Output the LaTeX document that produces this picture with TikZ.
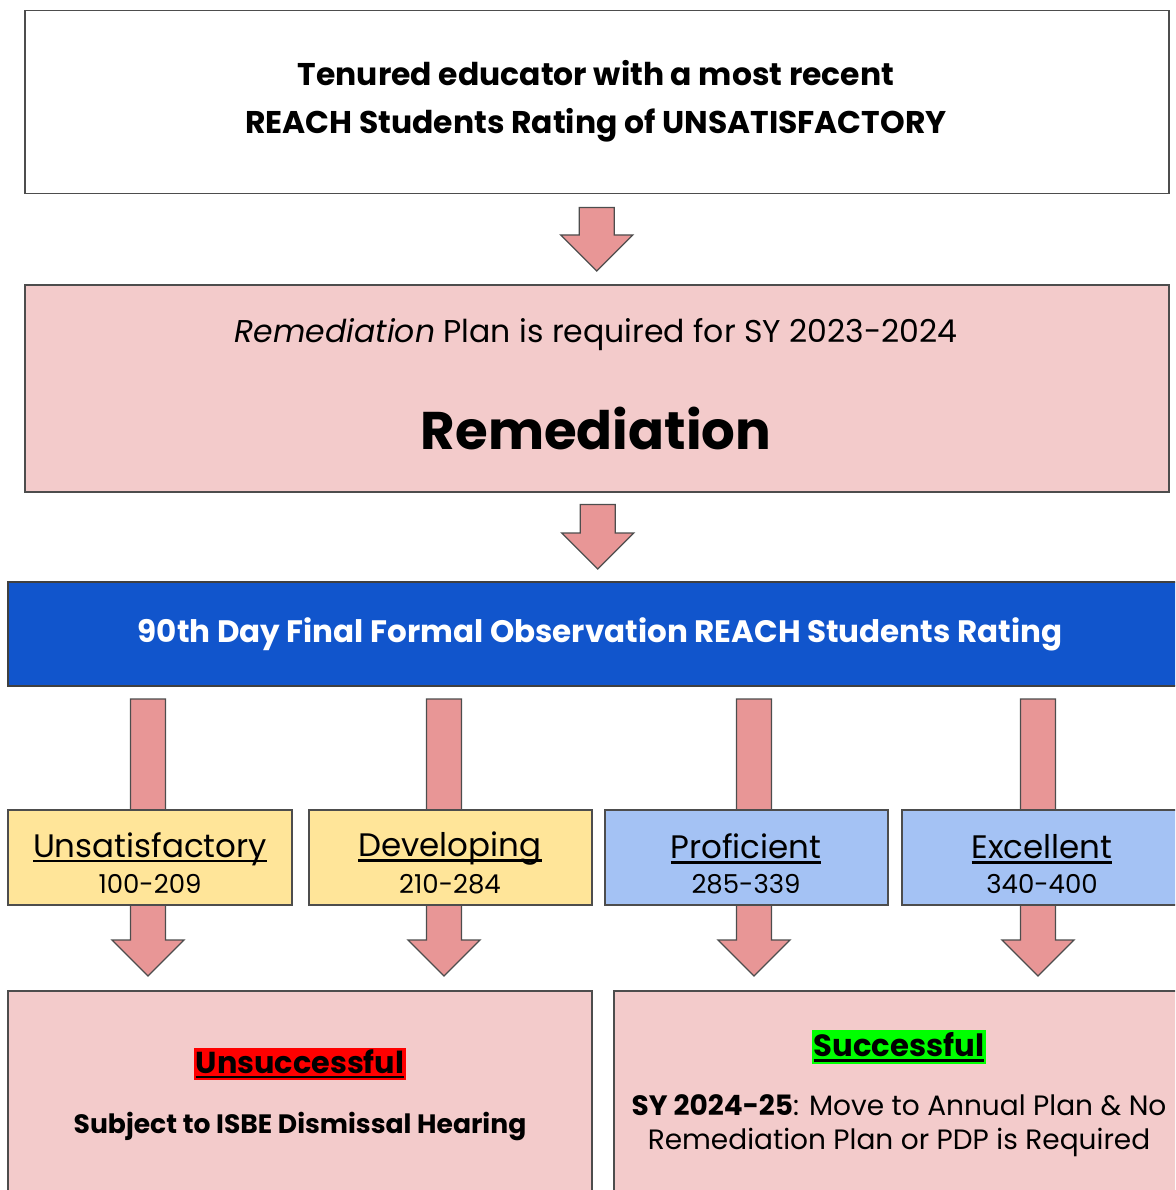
\documentclass[tikz,border=0pt]{standalone}
\usepackage{fontspec}
\setmainfont{Poppins}
\usetikzlibrary{calc}
\definecolor{arrowfill}{HTML}{E89696}
\definecolor{edge}{HTML}{4D4D4D}
\definecolor{pinkbox}{HTML}{F3CBCB}
\definecolor{bluebar}{HTML}{1155CC}
\definecolor{yellowbox}{HTML}{FFE599}
\definecolor{lightblue}{HTML}{A4C2F4}
\definecolor{hlred}{HTML}{FF0000}
\definecolor{hlgreen}{HTML}{00FF00}
\newcommand\myul[1]{\setbox0\hbox{#1}\leavevmode\rlap{\rule[-5pt]{\wd0}{2.5pt}}\box0}
\newcommand\fatarrow[2]{\path[draw=edge, line width=1.3pt, fill=arrowfill, line join=miter] let \p1=(#1), \p2=(#2) in (\x1-17.5pt,\y1) -- (\x1+17.5pt,\y1) -- (\x1+17.5pt,\y2+36pt) -- (\x1+36pt,\y2+36pt) -- (\x1,\y2) -- (\x1-36pt,\y2+36pt) -- (\x1-17.5pt,\y2+36pt) -- cycle;}
\tikzset{
  box/.style={draw=edge, line width=1.5pt, rectangle, anchor=north west, inner sep=0pt},
  catbox/.style={box, minimum height=95pt},
  lbl/.style={inner sep=0pt, align=center},
}
\begin{document}
\begin{tikzpicture}[x=1pt,y=-1pt]
\useasboundingbox (0,0) rectangle (1175,1190);
\clip (0,0) rectangle (1175,1190);
% top box
\node[box, fill=white, minimum width=1144pt, minimum height=183pt] (top) at (24,10) {};
\node[lbl, font=\fontsize{31.4}{48}\selectfont\bfseries] (toptxt) at (596,101) {Tenured educator with a most recent\\REACH Students Rating of UNSATISFACTORY};
% remediation box
\node[box, fill=pinkbox, minimum width=1144pt, minimum height=207pt] (rem) at (24,284) {};
\node[lbl, font=\fontsize{31.5}{36}\selectfont] (remsub) at (596,335) {\textit{Remediation} Plan is required for SY 2023-2024};
\node[lbl, font=\fontsize{53}{60}\selectfont\bfseries] (remtitle) at (596,428) {Remediation};
% arrow 1
\coordinate (a1s) at ($(top.south)+(0,13)$);
\coordinate (a1e) at ($(rem.north)+(0,-13)$);
\fatarrow{a1s}{a1e}
% blue bar
\node[box, draw=black!75, fill=bluebar, minimum width=1180pt, minimum height=104pt] (bar) at (7,581) {};
\node[lbl, text=white, font=\fontsize{31}{36}\selectfont\bfseries] (bartxt) at (600,634) {90th Day Final Formal Observation REACH Students Rating};
% arrow 2
\coordinate (a2s) at ($(rem.south)+(1,12)$);
\coordinate (a2e) at ($(bar.north)+(0,-12)$);
\fatarrow{a2s}{a2e}
% long arrows
\coordinate (s1) at (148,699); \coordinate (e1) at (148,976);
\coordinate (s2) at (444,699); \coordinate (e2) at (444,976);
\coordinate (s3) at (754,699); \coordinate (e3) at (754,976);
\coordinate (s4) at (1038,699); \coordinate (e4) at (1038,976);
\fatarrow{s1}{e1}
\fatarrow{s2}{e2}
\fatarrow{s3}{e3}
\fatarrow{s4}{e4}
% category boxes
\node[catbox, fill=yellowbox, minimum width=284pt] (c1) at (7,809) {};
\node[catbox, fill=yellowbox, minimum width=283pt] (c2) at (308,809) {};
\node[catbox, fill=lightblue, minimum width=283pt] (c3) at (604,809) {};
\node[catbox, fill=lightblue, minimum width=290pt] (c4) at (901,809) {};
\tikzset{cathead/.style={lbl, font=\fontsize{32.5}{38}\selectfont}, catnum/.style={lbl, font=\fontsize{26}{30}\selectfont}}
\node[cathead] (c1h) at (150,849) {\myul{Unsatisfactory}};
\node[catnum] (c1n) at (150,884) {100-209};
\node[cathead] (c2h) at (450,849) {\myul{Developing}};
\node[catnum] (c2n) at (450,884) {210-284};
\node[cathead] (c3h) at (746,849) {\myul{Proficient}};
\node[catnum] (c3n) at (746,884) {285-339};
\node[cathead] (c4h) at (1042,849) {\myul{Excellent}};
\node[catnum] (c4n) at (1042,884) {340-400};
% bottom boxes
\node[box, fill=pinkbox, minimum width=584pt, minimum height=230pt] (lose) at (7,990) {};
\node[box, fill=pinkbox, minimum width=580pt, minimum height=230pt] (win) at (613,990) {};
\setlength{\fboxsep}{2pt}
\node[lbl, font=\fontsize{30.3}{36}\selectfont\bfseries] (losehead) at (300,1064) {\colorbox{hlred}{\myul{Unsuccessful}}};
\node[lbl, font=\fontsize{26.6}{32}\selectfont\bfseries] (losetxt) at (300,1126) {Subject to ISBE Dismissal Hearing};
\node[lbl, font=\fontsize{30.7}{36}\selectfont\bfseries] (winhead) at (899,1047) {\colorbox{hlgreen}{\myul{Successful}}};
\node[lbl, font=\fontsize{28}{34}\selectfont] (wintxt) at (899,1126) {\textbf{SY 2024-25}: Move to Annual Plan \& No\\Remediation Plan or PDP is Required};
\end{tikzpicture}
\end{document}
